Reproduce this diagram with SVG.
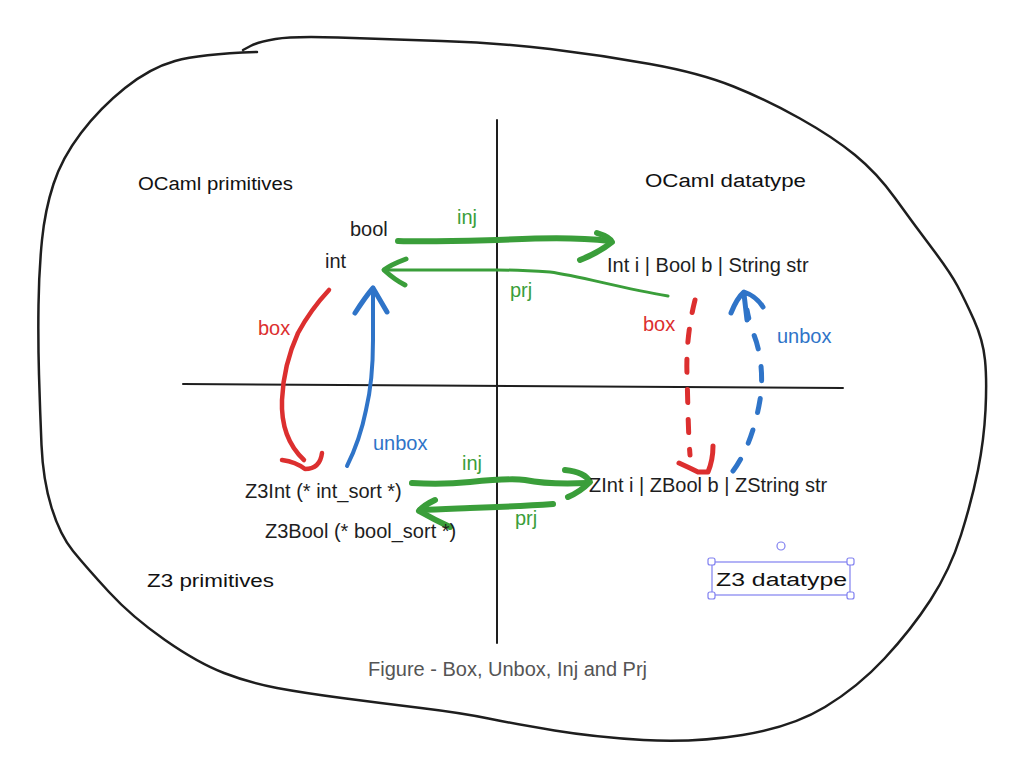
<svg xmlns="http://www.w3.org/2000/svg" width="1023" height="770" viewBox="0 0 1023 770">
<style>
.t{font-family:"Liberation Sans",Arial,sans-serif;font-size:20px;fill:#1e1e1e}
.h{font-family:"Liberation Sans",Arial,sans-serif;font-size:18px;fill:#111}
.g{fill:#3a9e3a}.r{fill:#dc2f2f}.b{fill:#2f74c8}
.cap{fill:#555}
.line{fill:none;stroke:#1e1e1e;stroke-linecap:round;stroke-linejoin:round}
.gs{fill:none;stroke:#3a9e3a;stroke-linecap:round;stroke-linejoin:round}
.rs{fill:none;stroke:#dc2f2f;stroke-linecap:round;stroke-linejoin:round}
.bs{fill:none;stroke:#2f74c8;stroke-linecap:round;stroke-linejoin:round}
.sel{fill:none;stroke:#8080f0;stroke-width:1.2}
.hd{fill:#fff;stroke:#8080f0;stroke-width:1.2}
</style>
<rect width="1023" height="770" fill="#fff"/>
<g id="frame">
<path class="line" stroke-width="2.5" d="M257,52 Q200,54 175,61 Q150,68 125,88 Q100,108 81,133 Q62,158 53.5,184 Q45,210 42,240 Q39,270 38.5,305 Q38,340 39,375 Q40,410 41.5,445 Q43,480 51.5,507.5 Q60,535 73,551 Q86,567 109,592 Q132,617 165,640 Q198,663 224,673 Q250,683 277,688 Q304,693 342,698 Q380,703 421,708 Q462,713 488.5,718.5 Q515,724 554.5,730.5 Q594,737 643.5,740 Q693,743 742.5,735 Q792,727 825,707 Q858,687 884.5,658.5 Q911,630 930.5,600 Q950,570 961,535 Q972,500 978,470 Q984,440 985.5,410 Q987,380 985,360 Q983,340 974,320 Q965,300 957.5,286 Q950,272 931.5,247.5 Q913,223 895,198 Q877,173 855,155 Q833,137 800,118.5 Q767,100 733.5,86.5 Q700,73 650,64 Q600,55 550,49 Q500,43 441.5,41 Q383,39 338,37.5 Q293,36 275.5,39 Q258,42 250.5,46 L243,50"/>
</g>
<g id="axes">
<path class="line" stroke-width="2" d="M497,120 L497,643"/>
<path class="line" stroke-width="2" d="M183,384 C400,385 650,387 843,388"/>
</g>
<g id="connectors">
<g id="inj-top">
<path class="gs" stroke-width="6" d="M398,241 C430,242 460,241 497,240 C540,238 575,237 610,241"/>
<path class="gs" stroke-width="6" d="M597,233 Q610,237 612,242 Q600,252 580,260"/>
</g>
<g id="prj-top">
<path class="gs" stroke-width="3" d="M668,296 C620,288 580,276 550,272 C520,270 500,270 497,270 C450,270 410,270 385,270"/>
<path class="gs" stroke-width="5" d="M406,259 Q390,265 384,270 Q395,280 405,285"/>
</g>
<g id="box-left">
<path class="rs" stroke-width="4.5" d="M329,290 C315,305 305,320 298,333 C288,355 283,375 282,400 C281,425 288,445 304,460"/>
<path class="rs" stroke-width="4.5" d="M282,460 Q296,462 305,469 Q320,469 322,453"/>
</g>
<g id="unbox-left">
<path class="bs" stroke-width="4" d="M347,466 C355,450 362,430 366,410 C372,385 373,360 373,340 C373,320 373,300 373,290"/>
<path class="bs" stroke-width="5" d="M355,313 Q366,296 373,288 Q380,300 387,312"/>
</g>
<g id="inj-bottom">
<path class="gs" stroke-width="6" d="M412,483 C430,484 450,484 470,482 C490,480 510,478 525,480 C545,484 565,484 587,483"/>
<path class="gs" stroke-width="6" d="M565,470 Q585,472 590,482 Q580,492 568,497"/>
</g>
<g id="prj-bottom">
<path class="gs" stroke-width="6" d="M553,504 C525,506 500,507 470,508 C450,509 435,510 420,510"/>
<path class="gs" stroke-width="6" d="M435,500 Q424,505 419,511 Q435,520 450,527"/>
</g>
<g id="box-right">
<path class="rs" stroke-width="5" stroke-dasharray="13 17" d="M695,300 C690,320 686,345 687,375 C688,405 688,430 690,455"/>
<path class="rs" stroke-width="5" d="M679,463 Q690,468 698,472 L708,472 Q713,460 713,446"/>
</g>
<g id="unbox-right">
<path class="bs" stroke-width="5" stroke-dasharray="14 18" d="M733,471 C745,455 755,430 760,400 C764,375 760,350 754,335 C750,325 748,315 747,310"/>
<path class="bs" stroke-width="5" d="M731,313 Q737,298 744,292 Q756,296 763,307 M747,320 L744,294"/>
</g>
</g>
<g id="labels">
<text class="t g" x="457" y="224">inj</text>
<text class="t g" x="510" y="297">prj</text>
<text class="t r" x="258" y="335">box</text>
<text class="t b" x="373" y="450">unbox</text>
<text class="t g" x="462" y="470">inj</text>
<text class="t g" x="515" y="525">prj</text>
<text class="t r" x="643" y="331">box</text>
<text class="t b" x="777" y="343">unbox</text>
</g>
<g id="node-ocaml-primitives"><text class="h" x="138" y="190" textLength="155" lengthAdjust="spacingAndGlyphs">OCaml primitives</text></g>
<g id="node-ocaml-datatype"><text class="h" x="645" y="187" textLength="161" lengthAdjust="spacingAndGlyphs">OCaml datatype</text></g>
<g id="node-z3-primitives"><text class="h" x="147" y="587" textLength="127" lengthAdjust="spacingAndGlyphs">Z3 primitives</text></g>
<g id="node-z3-datatype">
<rect class="sel" x="712" y="562" width="138" height="33"/>
<rect class="hd" x="708" y="558" width="7" height="7" rx="2"/>
<rect class="hd" x="847" y="558" width="7" height="7" rx="2"/>
<rect class="hd" x="708" y="592" width="7" height="7" rx="2"/>
<rect class="hd" x="847" y="592" width="7" height="7" rx="2"/>
<circle class="hd" cx="781" cy="546" r="4"/>
<text class="h" x="716" y="586" textLength="131" lengthAdjust="spacingAndGlyphs">Z3 datatype</text>
</g>
<g id="node-bool"><text class="t" x="350" y="236">bool</text></g>
<g id="node-int"><text class="t" x="325" y="268">int</text></g>
<g id="node-ocaml-type"><text class="t" x="607" y="272">Int i | Bool b | String str</text></g>
<g id="node-z3int"><text class="t" x="245" y="498">Z3Int (* int_sort *)</text></g>
<g id="node-z3bool"><text class="t" x="265" y="538">Z3Bool (* bool_sort *)</text></g>
<g id="node-z3-type"><text class="t" x="589" y="492">ZInt i | ZBool b | ZString str</text></g>
<g id="caption"><text class="t cap" x="368" y="676">Figure - Box, Unbox, Inj and Prj</text></g>
</svg>
